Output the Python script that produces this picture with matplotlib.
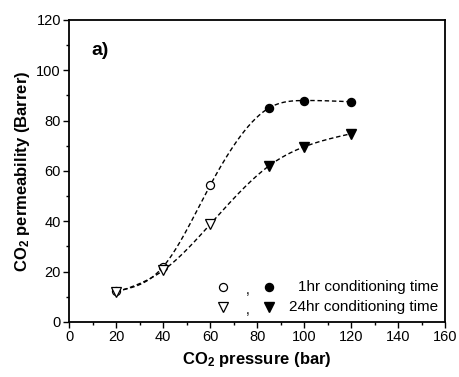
import numpy as np
import matplotlib
matplotlib.use('Agg')
import matplotlib.pyplot as plt

plt.rcParams['font.family'] = ['Liberation Sans', 'DejaVu Sans']
plt.rcParams['mathtext.fontset'] = 'custom'
plt.rcParams['mathtext.rm'] = 'Liberation Sans'
plt.rcParams['mathtext.bf'] = 'Liberation Sans:bold'
plt.rcParams['mathtext.default'] = 'bf'

# CO2 permeability vs feed pressure for two conditioning times
pressure = [20, 40, 60, 85, 100, 120]
perm_1hr = [12.3, 22.0, 54.3, 85.0, 88.0, 87.5]
perm_24hr = [11.8, 20.5, 38.8, 62.0, 69.6, 74.8]
# points measured before / after the plasticization threshold
n_open = 3


def natural_spline(x, y, num=300):
    # plain natural cubic spline through the data points
    x = np.asarray(x, float)
    y = np.asarray(y, float)
    n = len(x)
    h = np.diff(x)
    A = np.zeros((n, n))
    b = np.zeros(n)
    A[0, 0] = A[-1, -1] = 1
    for i in range(1, n - 1):
        A[i, i - 1] = h[i - 1]
        A[i, i] = 2 * (h[i - 1] + h[i])
        A[i, i + 1] = h[i]
        b[i] = 3 * ((y[i + 1] - y[i]) / h[i] - (y[i] - y[i - 1]) / h[i - 1])
    c = np.linalg.solve(A, b)
    xs = np.linspace(x[0], x[-1], num)
    ys = np.empty_like(xs)
    for k, xv in enumerate(xs):
        i = min(np.searchsorted(x, xv, side='right') - 1, n - 2)
        dx = xv - x[i]
        bi = (y[i + 1] - y[i]) / h[i] - h[i] * (2 * c[i] + c[i + 1]) / 3
        di = (c[i + 1] - c[i]) / (3 * h[i])
        ys[k] = y[i] + bi * dx + c[i] * dx ** 2 + di * dx ** 3
    return xs, ys


fig = plt.figure(figsize=(4.59, 3.77), dpi=100)
ax = fig.add_axes([0.151, 0.146, 0.8185, 0.801])

for perm in (perm_1hr, perm_24hr):
    xs, ys = natural_spline(pressure, perm)
    ax.plot(xs, ys, color='black', lw=1.0, ls=(0, (3.2, 2)), zorder=1)

ax.plot(pressure[:n_open], perm_1hr[:n_open], 'o', ms=5.8, mfc='white', mec='black', mew=0.9, zorder=3)
ax.plot(pressure[n_open:], perm_1hr[n_open:], 'o', ms=5.8, color='black', zorder=3)
ax.plot(pressure[:n_open], perm_24hr[:n_open], 'v', ms=6.5, mfc='white', mec='black', mew=0.9, zorder=3)
ax.plot(pressure[n_open:], perm_24hr[n_open:], 'v', ms=6.5, color='black', zorder=3)

# legend: open , filled  label
rows = [('o', '1hr conditioning time', 0.116), ('v', '24hr conditioning time', 0.05)]
for m, label, yy in rows:
    ms = 5.8 if m == 'o' else 6.5
    ax.plot([0.410], [yy], m, ms=ms, mfc='white', mec='black', mew=0.9, transform=ax.transAxes, clip_on=False)
    ax.text(0.476, yy - 0.01, ',', transform=ax.transAxes, ha='center', va='center', fontsize=10)
    ax.plot([0.532], [yy], m, ms=ms, color='black', transform=ax.transAxes, clip_on=False)
    ax.text(0.983, yy, label, transform=ax.transAxes, ha='right', va='center', fontsize=11)

ax.text(0.06, 0.9, 'a)', transform=ax.transAxes, fontsize=14, fontweight='bold', ha='left', va='center')

ax.set_xlim(0, 160)
ax.set_ylim(0, 120)
ax.set_xticks(np.arange(0, 161, 20))
ax.set_yticks(np.arange(0, 121, 20))
ax.set_xticks(np.arange(10, 160, 20), minor=True)
ax.set_yticks(np.arange(10, 120, 20), minor=True)
ax.tick_params(which='major', direction='out', length=4, width=1, labelsize=10.5, pad=2)
ax.tick_params(which='minor', direction='out', length=2.5, width=1)
for s in ax.spines.values():
    s.set_linewidth(1.3)

ax.set_xlabel('CO$_2$ pressure (bar)', fontsize=12, fontweight='bold', labelpad=4)
ax.set_ylabel('CO$_2$ permeability (Barrer)', fontsize=12, fontweight='bold', labelpad=3)

fig.savefig('out.png', dpi=100)
